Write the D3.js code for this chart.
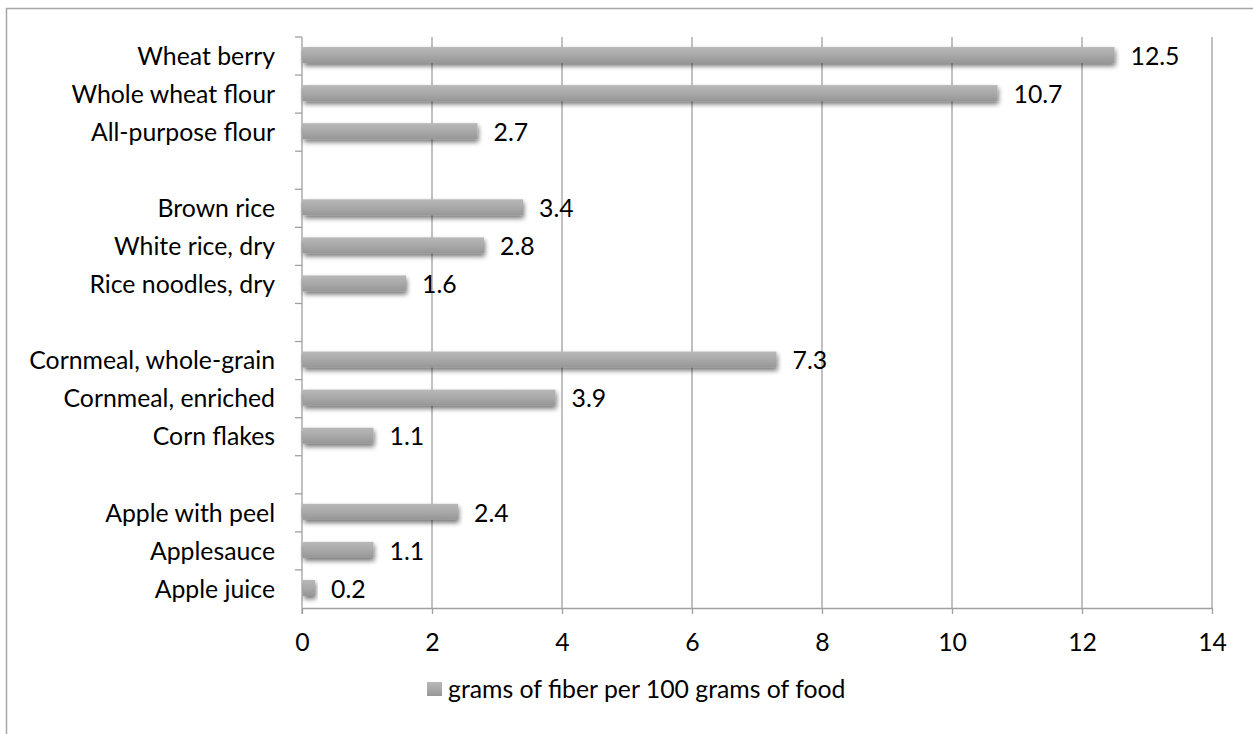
<!DOCTYPE html>
<html>
<head>
<meta charset="utf-8">
<script src="https://cdn.jsdelivr.net/npm/d3@7"></script>
<style>
  body { margin: 0; background: #fff; }
  svg text { font-family: Lato, "Open Sans", sans-serif; fill: #000; }
</style>
</head>
<body>
<svg id="chart" width="1253" height="734"></svg>
<script>
// Rows top-to-bottom; empty strings are the blank gaps between groups
const categories = [
  'Wheat berry', 'Whole wheat flour', 'All-purpose flour', '',
  'Brown rice', 'White rice, dry', 'Rice noodles, dry', '',
  'Cornmeal, whole-grain', 'Cornmeal, enriched', 'Corn flakes', '',
  'Apple with peel', 'Applesauce', 'Apple juice'
];
const values = [12.5, 10.7, 2.7, null, 3.4, 2.8, 1.6, null, 7.3, 3.9, 1.1, null, 2.4, 1.1, 0.2];
const xTicks = [0, 2, 4, 6, 8, 10, 12, 14];
const seriesName = 'grams of fiber per 100 grams of food';

const svg = d3.select('#chart');
const margin = { left: 302, right: 41, top: 37, bottom: 126 };
const width = 1253, height = 734;
const fontSize = 24.8;

// outer chart border
svg.append('rect')
  .attr('x', 6.5).attr('y', 8.5)
  .attr('width', 1260).attr('height', 760)
  .attr('fill', 'none').attr('stroke', '#a6a6a6').attr('stroke-width', 1.5);

const defs = svg.append('defs');
const grad = defs.append('linearGradient').attr('id', 'barGrad')
  .attr('x1', 0).attr('y1', 0).attr('x2', 0).attr('y2', 1);
grad.append('stop').attr('offset', '0%').attr('stop-color', '#b8b8b8');
grad.append('stop').attr('offset', '50%').attr('stop-color', '#a9a9a9');
grad.append('stop').attr('offset', '100%').attr('stop-color', '#969696');

const shadow = defs.append('filter').attr('id', 'shadow')
  .attr('x', '-10%').attr('y', '-30%').attr('width', '130%').attr('height', '190%');
shadow.append('feGaussianBlur').attr('in', 'SourceAlpha').attr('stdDeviation', 2.4);
shadow.append('feOffset').attr('dx', 1).attr('dy', 3);
shadow.append('feComponentTransfer').append('feFuncA').attr('type', 'linear').attr('slope', 0.55);
const merge = shadow.append('feMerge');
merge.append('feMergeNode');
merge.append('feMergeNode').attr('in', 'SourceGraphic');

const x = d3.scaleLinear().domain([0, 14]).range([margin.left, width - margin.right]);
const y = d3.scaleBand().domain(d3.range(categories.length))
  .range([margin.top, height - margin.bottom]);

// vertical gridlines
svg.append('g')
  .selectAll('line')
  .data(xTicks.slice(1))
  .join('line')
  .attr('x1', d => x(d)).attr('x2', d => x(d))
  .attr('y1', margin.top).attr('y2', height - margin.bottom)
  .attr('stroke', '#a0a0a0').attr('stroke-width', 1.3);

// x axis
const xAxis = svg.append('g')
  .attr('transform', `translate(0,${height - margin.bottom})`)
  .call(d3.axisBottom(x).tickValues(xTicks).tickSize(6).tickSizeOuter(0).tickPadding(19));
xAxis.select('.domain').attr('stroke', '#a0a0a0').attr('stroke-width', 1.3);
xAxis.selectAll('.tick line').attr('stroke', '#a0a0a0').attr('stroke-width', 1.3);
xAxis.selectAll('.tick text').attr('font-size', fontSize).attr('font-family', 'Lato, sans-serif');

// y axis with ticks at band boundaries
const yAxisG = svg.append('g');
yAxisG.append('line')
  .attr('x1', x(0)).attr('x2', x(0))
  .attr('y1', margin.top).attr('y2', height - margin.bottom + 6)
  .attr('stroke', '#a0a0a0').attr('stroke-width', 1.3);
yAxisG.selectAll('line.tk')
  .data(d3.range(categories.length))
  .join('line').attr('class', 'tk')
  .attr('x1', x(0) - 7).attr('x2', x(0))
  .attr('y1', i => y(i)).attr('y2', i => y(i))
  .attr('stroke', '#a0a0a0').attr('stroke-width', 1.3);

yAxisG.selectAll('text')
  .data(categories)
  .join('text')
  .attr('x', x(0) - 27)
  .attr('y', (d, i) => y(i) + y.bandwidth() / 2)
  .attr('dy', '0.35em')
  .attr('text-anchor', 'end')
  .attr('font-size', fontSize)
  .text(d => d);

// bars
const barH = 16;
const rows = values.map((v, i) => ({ v, i })).filter(d => d.v !== null);
svg.append('g')
  .selectAll('rect')
  .data(rows)
  .join('rect')
  .attr('x', x(0) + 1)
  .attr('y', d => y(d.i) + y.bandwidth() / 2 - barH / 2 - 1)
  .attr('width', d => x(d.v) - x(0) - 1)
  .attr('height', barH)
  .attr('fill', 'url(#barGrad)')
  .attr('filter', 'url(#shadow)');

// value labels
svg.append('g')
  .selectAll('text')
  .data(rows)
  .join('text')
  .attr('x', d => x(d.v) + 16)
  .attr('y', d => y(d.i) + y.bandwidth() / 2)
  .attr('dy', '0.35em')
  .attr('font-size', fontSize)
  .text(d => d.v.toFixed(1));

// legend
const legend = svg.append('g').attr('transform', 'translate(427,682)');
legend.append('rect').attr('width', 15).attr('height', 14).attr('fill', 'url(#barGrad)');
legend.append('text').attr('x', 21).attr('y', 7).attr('dy', '0.35em')
  .attr('font-size', fontSize).text(seriesName);
</script>
</body>
</html>
